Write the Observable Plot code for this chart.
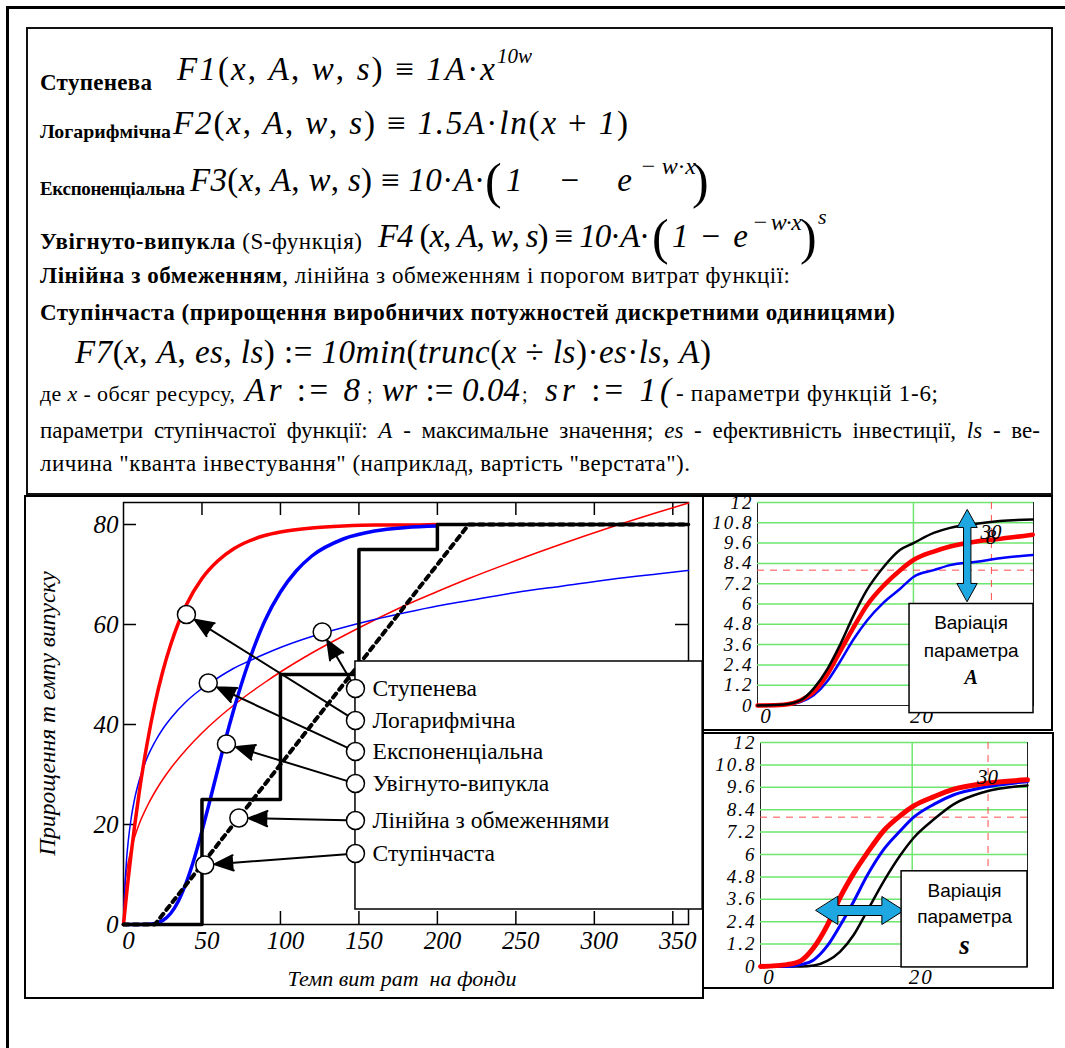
<!DOCTYPE html>
<html><head><meta charset="utf-8">
<script src="https://cdn.jsdelivr.net/npm/d3@7"></script>
<script src="https://cdn.jsdelivr.net/npm/@observablehq/plot@0.6"></script>
<style>
body{margin:0;background:#fff;}
#page{position:relative;width:1065px;height:1048px;overflow:hidden;background:#fff;font-family:"Liberation Serif","Times New Roman",serif;}
</style></head><body><div id="page"></div>
<script>
// ---------- main chart data ----------
const powerX = [0,1,2,3,5,7,10,15,20,25,30,40,50,60,70,80,90,100,120,140,160,180,200,220,250,280,310,340,360];
const powerY = [0,8.0,10.6,12.4,15.2,17.4,20.1,23.6,26.5,29.0,31.2,35.0,38.3,41.2,43.8,46.2,48.4,50.5,54.3,57.7,60.9,63.9,66.6,69.2,72.8,76.2,79.4,82.4,84.3];
const logX = [0,1,2,3,5,7,10,15,20,25,30,40,50,60,70,80,90,100,120,140,160,180,200,220,250,280,310,340,360];
const logY = [0,8.3,13.2,16.6,21.5,25.0,28.8,33.3,36.5,39.1,41.2,44.6,47.2,49.3,51.2,52.7,54.1,55.4,57.6,59.4,61.0,62.4,63.7,64.8,66.4,67.7,69.0,70.1,70.8];
const expX = [0,1,2,3,5,7,10,15,20,25,30,35,40,50,60,70,80,90,100,120,140,160,180,200];
const expY = [0,3.1,6.2,9.1,14.5,19.5,26.4,36.1,44.1,50.6,55.9,60.3,63.9,69.2,72.7,75.1,76.7,77.8,78.5,79.3,79.7,79.9,79.9,80.0];
const sX = [0,10,15,20,25,30,35,40,45,50,55,60,65,70,80,90,100,110,120,140,160,180,200];
const sY = [0,0,0.03,0.2,0.8,2.2,4.7,8.4,13.1,18.7,24.7,30.9,37.0,42.7,52.7,60.7,66.5,70.7,73.7,77.1,78.7,79.4,79.7];
const linX = [0,20,220,360];
const linY = [0,0,80,80];
const stepX = [0,50,100,150,200,360];
const stepY = [0,25,50,75,80,80];

const xTicks = [0,50,100,150,200,250,300,350];
const yTicks = [0,20,40,60,80];

const legendNames = ["Ступенева","Логарифмічна","Експоненціальна","Увігнуто-випукла","Лінійна з обмеженнями","Ступінчаста"];
const legendY = [47.2,40.8,34.6,28.2,20.8,14.2];
const legendX = 147.8;
const pointerX = [126.6,40.1,54.0,65.6,73.5,51.8];
const pointerY = [58.5,62.0,48.3,36.1,21.3,11.9];

// ---------- variation panels data ----------
const aX = [0,3.4,5.5,7.2,8.9,10.6,12.3,14.0,16.2,18.3,20,22.6,24.7,28.1,31.1,35.3];
const aBlack = [0,0.06,0.3,1.0,2.1,3.6,5.3,6.8,8.2,9.2,9.6,10.2,10.5,10.75,10.9,11.0];
const aRed = [0,0.05,0.3,0.8,1.8,3.2,4.6,5.9,7.1,8.0,8.6,9.1,9.4,9.7,9.85,10.1];
const aBlue = [0,0.03,0.2,0.6,1.4,2.6,3.9,5.0,6.1,6.9,7.6,8.0,8.3,8.5,8.7,8.9];
const sVarX = [0,3.5,5.3,7.0,8.8,10.5,12.3,14.1,16.3,18.5,20.2,22.9,25.5,29.5,35.2];
const sRed = [0,0.1,0.3,1.0,2.2,3.7,5.0,6.1,7.3,8.1,8.6,9.1,9.5,9.8,10.0];
const sBlue = [0,0,0.1,0.35,1.1,2.2,3.5,4.9,6.3,7.3,8.0,8.7,9.2,9.6,9.9];
const sBlack = [0,0,0,0.05,0.3,0.8,1.7,3.0,4.6,6.0,6.9,7.9,8.7,9.35,9.7];
const smallYTicks = [0,1.2,2.4,3.6,4.8,6,7.2,8.4,9.6,10.8,12];
const smallXTicks = [0,20];

const serif = '"Liberation Serif","Times New Roman",serif';
const page = d3.select("#page");
const pts = (xs, ys) => xs.map((x, i) => ({x, y: ys[i]}));

// ---------- frames ----------
page.append("div").style("position","absolute").style("left","6px").style("top","6px")
  .style("width","1200px").style("height","1200px")
  .style("border-left","3px solid #000").style("border-top","3px solid #000");
page.append("div").style("position","absolute").style("left","26px").style("top","27px")
  .style("width","1027px").style("height","468px").style("box-sizing","border-box")
  .style("border","2px solid #111");

// ---------- header text ----------
const hdr = page.append("svg").attr("width",1065).attr("height",494)
  .style("position","absolute").style("left","0px").style("top","0px").style("overflow","visible");
function txt(x, y, parts, size, len, fitSize) {
  const t = hdr.append("text").attr("x", x).attr("y", y).attr("font-size", size)
    .style("font-family", serif).attr("fill","#000");
  for (const [s, st] of parts) {
    const ts = t.append("tspan").text(s);
    if (st.includes("b")) ts.attr("font-weight","bold");
    if (st.includes("i")) ts.attr("font-style","italic");
  }
  if (len && fitSize) {
    const w = t.node().getComputedTextLength();
    if (w > len * 1.02) t.attr("font-size", Math.max(19, size * len / w));
  }
  if (len) t.attr("textLength", len).attr("lengthAdjust","spacing");
  return t;
}
const args = [["(",""],["x","i"],[", ",""],["A","i"],[", ",""],["w","i"],[", ",""],["s","i"],[")",""],["  ≡  ",""]];
txt(40, 90, [["Ступенева","b"]], 23, 112, true);
txt(177, 80, [["F1","i"], ...args, ["1A","i"],["·",""],["x","i"]], 33, 318);
txt(497, 63, [["10w","i"]], 21);
txt(40, 138, [["Логарифмічна","b"]], 23, 131, true);
txt(173, 134, [["F2","i"], ...args, ["1.5A","i"],["·",""],["ln","i"],["(",""],["x","i"],[" + ",""],["1","i"],[")",""]], 33, 455);
txt(40, 195, [["Експоненціальна","b"]], 23, 145, true);
txt(190, 191, [["F3","i"], ...args, ["10","i"],["·",""],["A","i"],["·",""]], 33, 295);
txt(485, 198, [["(",""]], 50);
txt(506, 191, [["1","i"],["  −  ",""],["e","i"]], 33, 126);
txt(640, 174, [["−  ","i"],["w","i"],["·",""],["x","i"]], 24, 56);
txt(692, 198, [[")",""]], 50);
txt(40, 249, [["Увігнуто-випукла","b"],[" (S-функція)",""]], 23, 322, true);
txt(378, 247, [["F4 ","i"], ...args, ["10","i"],["·",""],["A","i"],["·",""]], 33, 272);
txt(652, 254, [["(",""]], 50);
txt(672, 247, [["1","i"],["  −  ",""],["e","i"]], 33, 76);
txt(752, 230, [["−  ","i"],["w","i"],["·",""],["x","i"]], 24, 50);
txt(800, 254, [[")",""]], 50);
txt(818, 224, [["s","i"]], 22);
txt(40, 283, [["Лінійна з обмеженням","b"],[", лінійна з обмеженням і порогом витрат функції:",""]], 23, 750, true);
txt(40, 320, [["Ступінчаста (прирощення виробничих потужностей дискретними одиницями)","b"]], 23, 855, true);
txt(75, 363, [["F7","i"],["(",""],["x","i"],[", ",""],["A","i"],[", ",""],["es","i"],[", ",""],["ls","i"],[")",""],["  :=  ",""],["10","i"],["min","i"],["(",""],["trunc","i"],["(",""],["x","i"],[" ÷ ",""],["ls","i"],[")",""],["·",""],["es","i"],["·",""],["ls","i"],[", ",""],["A","i"],[")",""]], 33, 636);
txt(40, 401, [["де ",""],["x","i"],[" - обсяг ресурсу,",""]], 22, 195, true);
txt(245, 401, [["Ar","i"],["  :=  ",""],["8","i"]], 33, 115);
txt(367, 401, [[";",""]], 20);
txt(382, 401, [["wr","i"],["  :=  ",""],["0.04","i"]], 33, 138);
txt(522, 401, [[";",""]], 20);
txt(545, 401, [["sr","i"],["  :=  ",""],["1(","i"]], 33, 126);
txt(676, 401, [["- параметри функцій 1-6;",""]], 23, 262, true);
const l9 = txt(40, 438, [["параметри ступінчастої функції: ",""],["A","i"],[" - максимальне значення; ",""],["es","i"],[" - ефективність інвестиції, ",""],["ls","i"],[" - ве-",""]], 23);
{
  const node = l9.node(); const len = node.getComputedTextLength();
  const n = (node.textContent.match(/ /g) || []).length;
  if (len < 1000) l9.attr("word-spacing", (1000 - len) / n);
  else l9.attr("textLength", 1000).attr("lengthAdjust", "spacing");
}
txt(40, 471, [["личина \"кванта інвестування\" (наприклад, вартість \"верстата\").",""]], 23, 650, true);

// ---------- main chart ----------
const mainPlot = Plot.plot({
  width: 678, height: 502,
  marginLeft: 98, marginRight: 15, marginTop: 6, marginBottom: 74,
  x: {domain: [0, 360]},
  y: {domain: [0, 84.4]},
  style: {fontFamily: serif, background: "transparent", overflow: "visible", color: "#000"},
  marks: [
    Plot.frame({strokeWidth: 1.5}),
    Plot.ruleX(xTicks.slice(1), {y1: 0, y2: 2.6, strokeWidth: 1.5}),
    Plot.ruleX(xTicks.slice(1), {y1: 84.4 - 2.6, y2: 84.4, strokeWidth: 1.5}),
    Plot.ruleY(yTicks.slice(1), {x1: 0, x2: 8.3, strokeWidth: 1.5}),
    Plot.ruleY(yTicks.slice(1), {x1: 360 - 8.3, x2: 360, strokeWidth: 1.5}),
    Plot.axisX({ticks: xTicks, tickSize: 0, tickPadding: 7, dx: 5, fontSize: 25, fontStyle: "italic", label: null}),
    Plot.axisY({ticks: yTicks, tickSize: 0, tickPadding: 5, fontSize: 25, fontStyle: "italic", label: null}),
    Plot.line(pts(powerX, powerY), {x: "x", y: "y", stroke: "#ff0000", strokeWidth: 1.5, curve: "monotone-x"}),
    Plot.line(pts(logX, logY), {x: "x", y: "y", stroke: "#0000ff", strokeWidth: 1.5, curve: "monotone-x"}),
    Plot.line(pts(expX, expY), {x: "x", y: "y", stroke: "#ff0000", strokeWidth: 3.5, curve: "monotone-x"}),
    Plot.line(pts(sX, sY), {x: "x", y: "y", stroke: "#0000ff", strokeWidth: 3.5, curve: "monotone-x"}),
    Plot.line(pts(stepX, stepY), {x: "x", y: "y", stroke: "#000", strokeWidth: 3.5, curve: "step-after"}),
    Plot.line(pts(linX, linY), {x: "x", y: "y", stroke: "#000", strokeWidth: 4, strokeDasharray: "5,5"}),
    Plot.rect([{x1: legendX, x2: 369, y1: 3.0, y2: 52.6}], {x1: "x1", x2: "x2", y1: "y1", y2: "y2", fill: "#fff", stroke: "#000", strokeWidth: 1.5}),
    Plot.arrow(legendNames.map((n, i) => ({x1: legendX, y1: legendY[i], x2: pointerX[i], y2: pointerY[i]})),
      {x1: "x1", y1: "y1", x2: "x2", y2: "y2", insetStart: 9, insetEnd: 10, headLength: 15, headAngle: 45, stroke: "#000", fill: "#000", strokeWidth: 2}),
    Plot.dot(legendNames.map((n, i) => ({x: legendX, y: legendY[i]})), {x: "x", y: "y", r: 9, fill: "#fff", stroke: "#000", strokeWidth: 1.5}),
    Plot.dot(legendNames.map((n, i) => ({x: pointerX[i], y: pointerY[i]})), {x: "x", y: "y", r: 9, fill: "#fff", stroke: "#000", strokeWidth: 1.5}),
    Plot.text(legendNames.map((n, i) => ({x: 158.7, y: legendY[i], t: n})), {x: "x", y: "y", text: "t", textAnchor: "start", fontSize: 23.5, fill: "#000"}),
    Plot.text(["Прирощення т емпу випуску"], {frameAnchor: "left", textAnchor: "middle", dx: -76, rotate: -90, fontSize: 23.5, fontStyle: "italic"}),
    Plot.text(["Темп вит рат  на фонди"], {frameAnchor: "bottom", dy: 61, dx: -4, fontSize: 22, fontStyle: "italic"})
  ]
});
d3.select(mainPlot).selectAll('g[aria-label="arrow"] path').attr("fill", "#000").attr("stroke-linejoin", "miter");
const mainWrap = page.append("div").style("position","absolute").style("left","25px").style("top","496px")
  .style("width","678px").style("height","502px").style("overflow","hidden");
mainWrap.node().appendChild(mainPlot);
page.append("div").style("position","absolute").style("left","24px").style("top","495px")
  .style("width","680px").style("height","504px").style("box-sizing","border-box").style("border","2px solid #000");

// ---------- variation panels ----------
const doubleArrow = (shaftHalf, headHalf, headLen) => ({
  draw(context, l) {
    context.moveTo(0, 0);
    context.lineTo(headHalf, -headLen);
    context.lineTo(shaftHalf, -headLen);
    context.lineTo(shaftHalf, -(l - headLen));
    context.lineTo(headHalf, -(l - headLen));
    context.lineTo(0, -l);
    context.lineTo(-headHalf, -(l - headLen));
    context.lineTo(-shaftHalf, -(l - headLen));
    context.lineTo(-shaftHalf, -headLen);
    context.lineTo(-headHalf, -headLen);
    context.closePath();
  }
});
const green = "#6ee66e";
const dashRed = "#ff4d4d";
function panel(cfg) {
  const p = Plot.plot({
    width: cfg.w, height: cfg.h,
    marginLeft: cfg.ml, marginRight: cfg.mr, marginTop: cfg.mt, marginBottom: cfg.mb,
    x: {domain: [0, cfg.xmax]},
    y: {domain: [0, 12]},
    style: {fontFamily: serif, background: "transparent", overflow: "visible", color: "#000"},
    marks: [
      Plot.frame({stroke: "#222", strokeWidth: 1}),
      Plot.ruleY(smallYTicks.slice(1), {stroke: green, strokeWidth: 1.5}),
      Plot.ruleX([20], {stroke: green, strokeWidth: 1.5}),
      Plot.ruleY([8], {stroke: dashRed, strokeWidth: 1, strokeDasharray: "7,6"}),
      Plot.ruleX([30], {stroke: dashRed, strokeWidth: 1, strokeDasharray: "7,6"}),
      Plot.axisY({ticks: smallYTicks, tickSize: 0, tickPadding: 4, fontSize: 19, fontStyle: "italic", label: null,
        tickFormat: d => String(+d.toFixed(1))}),
      Plot.axisX({ticks: smallXTicks, tickSize: 0, tickPadding: 3, dx: 9, fontSize: 21, fontStyle: "italic", label: null}),
      ...cfg.lines.map(([ys, color, w]) => Plot.line(pts(cfg.xs, ys), {x: "x", y: "y", stroke: color, strokeWidth: w, curve: "monotone-x"})),
      Plot.text(cfg.marks, {x: "x", y: "y", text: "t", dx: "dx", fontSize: 21, fontStyle: "italic"}),
      Plot.vector([cfg.arrow], {x: "x", y: "y", length: cfg.arrow.len, rotate: cfg.arrow.rot, anchor: "middle",
        shape: doubleArrow(cfg.arrow.sh, cfg.arrow.hh, cfg.arrow.hl), fill: "#1ea7e0", stroke: "#000", strokeWidth: 1}),
      Plot.rect([cfg.box], {x1: "x1", x2: "x2", y1: "y1", y2: "y2", fill: "#fff", stroke: "#000", strokeWidth: 1.5}),
      Plot.text(cfg.boxText, {x: "x", y: "y", text: "t", fontSize: 19, fontFamily: '"Liberation Sans Narrow","Arial Narrow","Liberation Sans",sans-serif'}),
      Plot.text([cfg.param], {x: "x", y: "y", text: "t", fontSize: cfg.param.size, fontWeight: "bold", fontStyle: "italic"})
    ]
  });
  d3.select(p).selectAll('g[aria-label="y-axis tick label"] text, g[aria-label="x-axis tick label"] text').style("letter-spacing", "2px");
  const wrap = page.append("div").style("position","absolute").style("left", cfg.left + "px").style("top", cfg.top + "px")
    .style("width", cfg.w + "px").style("height", cfg.h + "px").style("overflow","hidden");
  wrap.node().appendChild(p);
  page.append("div").style("position","absolute").style("left", (cfg.left - 1) + "px").style("top", (cfg.top - 1) + "px")
    .style("width", (cfg.w + 2) + "px").style("height", (cfg.h + 2) + "px").style("box-sizing","border-box").style("border","2px solid #000");
}
panel({
  left: 703, top: 496, w: 349, h: 234, ml: 54, mr: 19, mt: 6, mb: 25, xmax: 35.4,
  xs: aX, lines: [[aBlue, "#0000ff", 2.5], [aRed, "#ff0000", 4.5], [aBlack, "#000", 2.5]],
  marks: [{x: 30, y: 10.2, t: "30", dx: 11}, {x: 30, y: 9.9, t: "8", dx: 21}],
  arrow: {x: 26.9, y: 8.87, len: 92, rot: 0, sh: 3.7, hh: 10, hl: 18},
  box: {x1: 19.5, x2: 35.4, y1: -0.45, y2: 6.0},
  boxText: [{x: 27.4, y: 4.9, t: "Варіація"}, {x: 27.4, y: 3.25, t: "параметра"}],
  param: {x: 27.4, y: 1.65, t: "A", size: 20}
});
panel({
  left: 703, top: 733, w: 350, h: 255, ml: 57, mr: 26, mt: 9, mb: 22, xmax: 35.2,
  xs: sVarX, lines: [[sBlack, "#000", 2.5], [sBlue, "#0000ff", 3], [sRed, "#ff0000", 5]],
  marks: [{x: 30, y: 10.1, t: "30", dx: 10}],
  arrow: {x: 13.1, y: 3.0, len: 88, rot: 90, sh: 5, hh: 14, hl: 22},
  box: {x1: 18.6, x2: 35.2, y1: -0.05, y2: 5.1},
  boxText: [{x: 26.9, y: 4.07, t: "Варіація"}, {x: 26.9, y: 2.68, t: "параметра"}],
  param: {x: 26.9, y: 1.15, t: "s", size: 27}
});
</script></body></html>
